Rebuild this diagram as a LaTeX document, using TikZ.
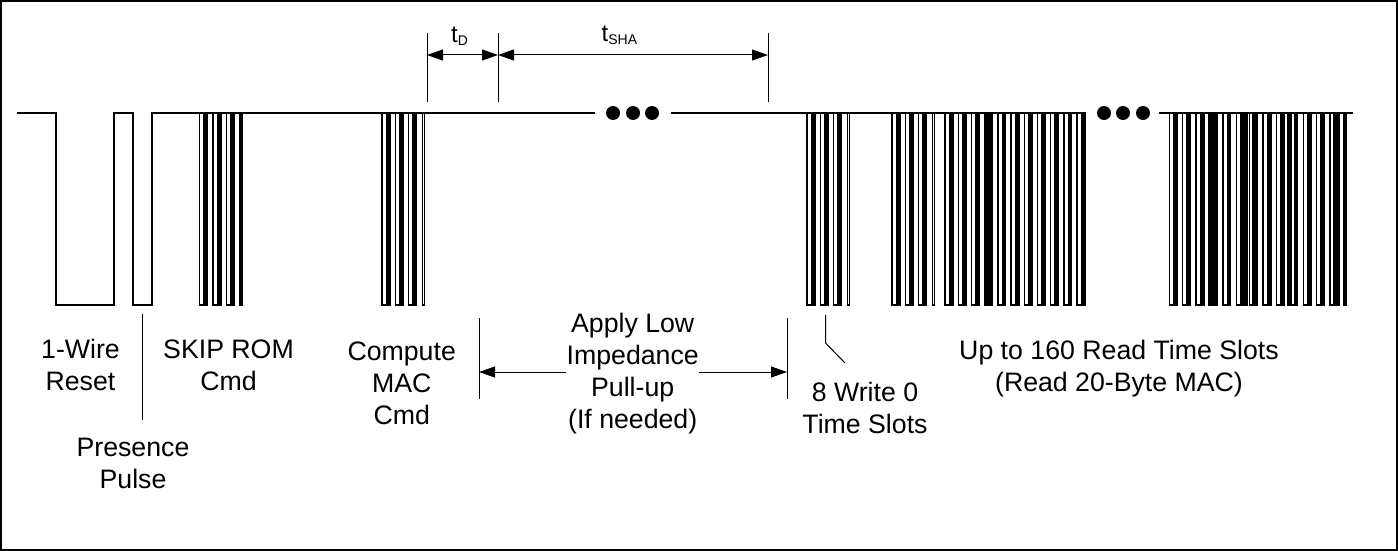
\documentclass[tikz,border=0pt]{standalone}
\usepackage{fontspec}
\setmainfont{Liberation Sans}
\usetikzlibrary{arrows.meta}
\newcommand{\byteblock}[3]{% start, period, count
  \foreach \k in {1,...,#3}{
    \pgfmathsetmacro{\s}{#1+(\k-1)*#2}
    \foreach \a/\b in {0/4.4,5.2/6.0,6.9/7.8}{
      \draw[wave] ({\s+\a},113) -- ({\s+\a},305) -- ({\s+\b},305) -- ({\s+\b},113);
    }
  }
}
\newcommand{\tailpulse}[1]{\draw[wave] (#1,113) -- (#1,305) -- ({#1+2},305) -- ({#1+2},113);}
\newcommand{\heavybar}[2]{\fill[black] (#1,112) rectangle (#2,306);}
\tikzset{
  wave/.style={line width=1.4pt,line cap=butt,line join=miter,black},
  guide/.style={line width=1pt,black},
  dim/.style={line width=1pt,black,{Triangle[length=16pt,width=11pt]}-{Triangle[length=16pt,width=11pt]}},
  dimr/.style={line width=1pt,black,-{Triangle[length=16pt,width=11pt]}},
  lbl/.style={font=\fontsize{26.7}{32}\selectfont,inner sep=0pt,anchor=center,align=center},
  dotm/.style={circle,fill=black,inner sep=0pt,minimum size=14pt}
}
\begin{document}
\begin{tikzpicture}[x=1pt,y=-1pt]
\useasboundingbox (0,0) rectangle (1398,551);
\draw[line width=2pt] (1,1) rectangle (1397,550);
% waveform
\coordinate (w0) at (17,113);
\draw[wave] (w0) -- (56,113) -- (56,305) -- (114,305) -- (114,113) -- (133,113) -- (133,305) -- (152,305) -- (152,113) -- (595,113);
\draw[wave] (671,113) -- (1086,113);
\draw[wave] (1159,113) -- (1353,113);
\byteblock{199.7}{13.3}{3}
\tailpulse{240}
\byteblock{382}{13.3}{3}
\tailpulse{422.3}
\byteblock{807}{13.3}{3}
\tailpulse{847.3}
\byteblock{892}{13.3}{3}
\tailpulse{932.3}
\byteblock{945}{13.2}{11}
\byteblock{1169.3}{13.4}{13}
\tailpulse{1344}
\heavybar{984}{989}
\heavybar{1208}{1213}
\heavybar{1243}{1248}
\heavybar{1252}{1257}
\heavybar{1287}{1292}
\heavybar{1333}{1340}
% dots
\node[dotm] (d1) at (613,113) {};
\node[dotm] (d2) at (633,113) {};
\node[dotm] (d3) at (652,113) {};
\node[dotm] (d4) at (1104,113) {};
\node[dotm] (d5) at (1123,113) {};
\node[dotm] (d6) at (1143,113) {};
% timing
\coordinate (a1) at (427,33); \coordinate (a2) at (427,102);
\coordinate (b1) at (498,33); \coordinate (b2) at (498,102);
\coordinate (c1) at (768,33); \coordinate (c2) at (768,102);
\draw[guide] (a1) -- (a2); \draw[guide] (b1) -- (b2); \draw[guide] (c1) -- (c2);
\coordinate (a) at (427,55); \coordinate (b) at (498,55); \coordinate (c) at (768,55);
\draw[dim] (a) -- (b);
\draw[dim] (b) -- (c);
\node[inner sep=0pt,anchor=base west] (td) at (451,43) {\fontsize{24}{28}\selectfont t\raisebox{-2pt}{\fontsize{14}{16}\selectfont D}};
\node[inner sep=0pt,anchor=base west] (tsha) at (601.5,42) {\fontsize{24}{28}\selectfont t\raisebox{-2.5pt}{\fontsize{14}{16}\selectfont SHA}};
% labels
\coordinate (p1) at (142.5,314); \coordinate (p2) at (142.5,420);
\draw[guide] (p1) -- (p2);
\node[lbl] (l1) at (80.5,365) {1-Wire\\Reset};
\node[lbl] (l2) at (133,463) {Presence\\Pulse};
\node[lbl] (l3) at (228.5,365) {SKIP ROM\\Cmd};
\node[lbl] (l4) at (401.7,383) {Compute\\MAC\\Cmd};
\node[lbl] (l5) at (632.7,373.5) {Apply Low\\Impedance\\Pull-up\\(If needed)};
\node[lbl] (l6) at (865,408) {8 Write 0\\Time Slots};
\node[lbl] (l7) at (1119,369) {Up to 160 Read Time Slots\\(Read 20-Byte MAC)};
\coordinate (e1) at (479,318); \coordinate (e2) at (479,399);
\coordinate (f1) at (787,318); \coordinate (f2) at (787,399);
\draw[guide] (e1) -- (e2); \draw[guide] (f1) -- (f2);
\coordinate (e) at (479,372); \coordinate (f) at (787,372);
\coordinate (e3) at (566,372); \coordinate (f3) at (699,372);
\draw[dimr] (e3) -- (e);
\draw[dimr] (f3) -- (f);
\coordinate (g1) at (825.5,315); \coordinate (g2) at (825.5,343); \coordinate (g3) at (845,363);
\draw[guide] (g1) -- (g2) -- (g3);
\end{tikzpicture}
\end{document}
